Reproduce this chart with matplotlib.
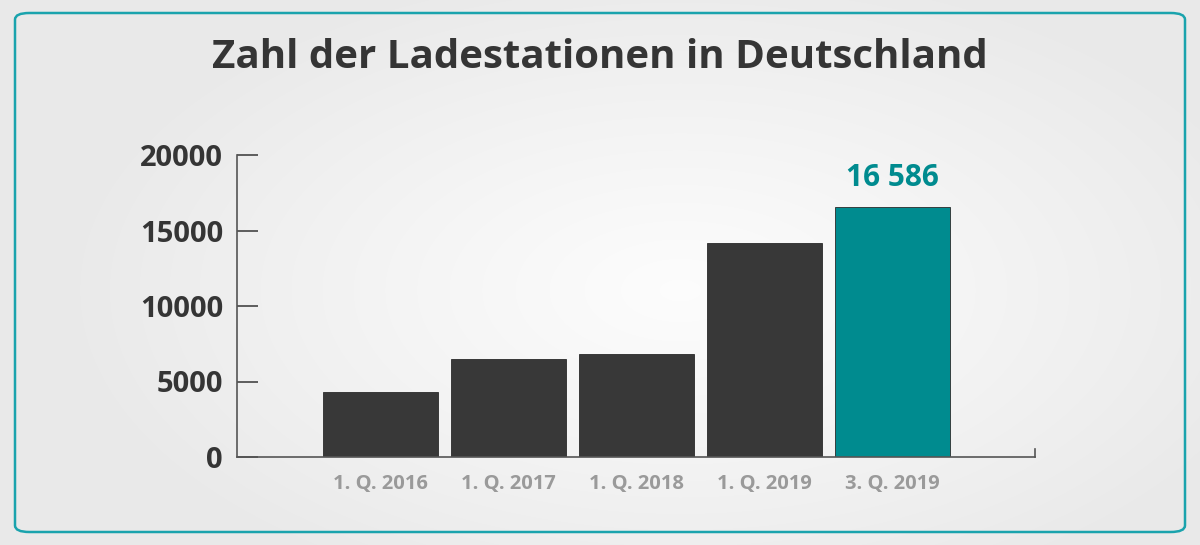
import numpy as np
import matplotlib
matplotlib.use("Agg")
import matplotlib.pyplot as plt
from matplotlib.patches import FancyBboxPatch
from matplotlib.lines import Line2D

plt.rcParams['font.family'] = ['Open Sans', 'DejaVu Sans']

categories = ["1. Q. 2016", "1. Q. 2017", "1. Q. 2018", "1. Q. 2019", "3. Q. 2019"]
values = [4300, 6500, 6800, 14200, 16586]
highlight_label = "16 586"
yticks = [0, 5000, 10000, 15000, 20000]
title = "Zahl der Ladestationen in Deutschland"

W, H = 1200, 545
fig = plt.figure(figsize=(W / 100, H / 100), dpi=100)

# background radial gradient
bg = fig.add_axes([0, 0, 1, 1], zorder=-10)
yy, xx = np.mgrid[0:H, 0:W]
cx, cy = 680, 290
r = np.sqrt(((xx - cx) / 620.0) ** 2 + ((yy - cy) / 330.0) ** 2)
r = np.clip(r, 0, 1)
lo, hi = 0.99, 0.915
img = lo + (hi - lo) * r ** 1.1
bg.imshow(np.dstack([img, img, img]), extent=[0, W, H, 0], aspect='auto')
bg.set_xlim(0, W)
bg.set_ylim(H, 0)
bg.axis('off')

# rounded border
border = FancyBboxPatch((15 / W, 13 / H), (1185 - 15) / W, (532 - 13) / H,
                        boxstyle="round,pad=0,rounding_size=0.012",
                        transform=fig.transFigure, fill=False,
                        edgecolor="#1aa3ad", linewidth=1.8, zorder=-5)
fig.patches.append(border)

fig.text(0.5, 1 - 57 / H, title, ha='center', va='center',
         fontsize=29, fontweight='bold', color='#353535')

ax = fig.add_axes([237 / W, 88 / H, (1035 - 237) / W, (457 - 155) / H])
ax.patch.set_alpha(0)
x = np.arange(len(categories))
colors = ['#383838'] * (len(values) - 1) + ['#008b8f']
ax.bar(x, values, width=0.9, color=colors, edgecolor='#2a2a2a', linewidth=0.6)
ax.set_xlim(-1.12, 5.11)
ax.set_ylim(0, 20000)
ax.set_yticks(yticks)
ax.set_yticklabels([str(v) for v in yticks])
ax.set_xticks(x)
ax.set_xticklabels(categories)
for s in ['top', 'right']:
    ax.spines[s].set_visible(False)
ax.spines['left'].set_color('#555555')
ax.spines['bottom'].set_color('#555555')
ax.spines['left'].set_linewidth(1.2)
ax.spines['bottom'].set_linewidth(1.2)
ax.tick_params(axis='y', direction='in', length=15, width=1.2, color='#444444',
               labelsize=21, labelcolor='#353535', pad=10)
ax.tick_params(axis='x', length=0, labelsize=14.5, labelcolor='#9a9a9a', pad=12)
for lbl in ax.get_yticklabels() + ax.get_xticklabels():
    lbl.set_fontweight('bold')
ax.add_line(Line2D([1, 1], [0, 0.025], transform=ax.transAxes, color='#555555',
                   linewidth=1.2, clip_on=False))
ax.text(x[-1], values[-1] + 900, highlight_label, ha='center', va='bottom',
        fontsize=21.5, fontweight='bold', color='#008b8f')

fig.savefig('out.png', dpi=100)
